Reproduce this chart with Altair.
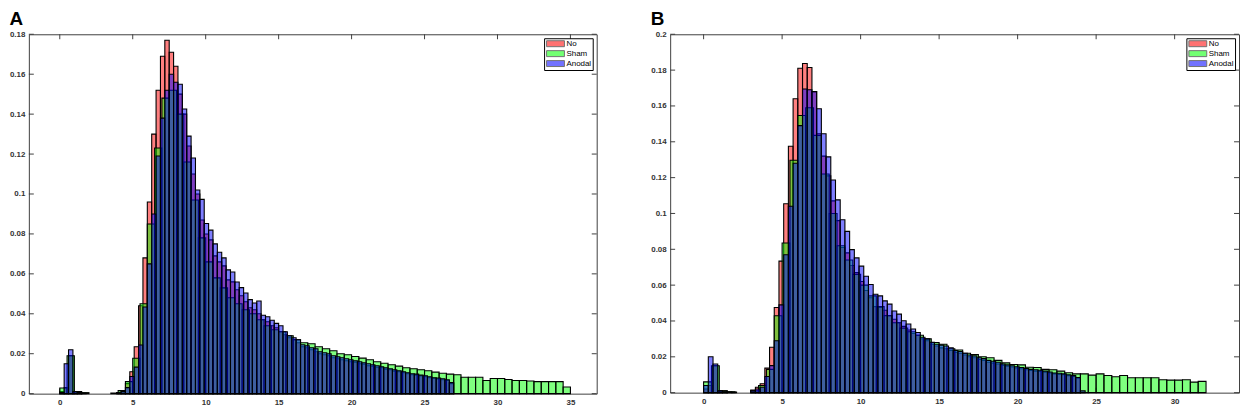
import altair as alt
import pandas as pd

# ---------------- data (bin heights) ----------------
NARROW = 0.3   # bin width of the "No" and "Anodal" histograms
WIDE = 0.5     # bin width of the "Sham" histograms

SERIES = ["No", "Sham", "Anodal"]
COLORS = ["#ff0000", "#00ff00", "#0000ff"]

# Panel A
A_NO = [0.001, 0.003, 0.019, 0.001, 0.0005, 0.0003, 0, 0, 0, 0, 0, 0, 0, 0.0005,
        0.001, 0.005, 0.011, 0.0235, 0.044, 0.068, 0.096, 0.130, 0.152, 0.169,
        0.177, 0.171, 0.164, 0.150, 0.140, 0.124, 0.110, 0.100, 0.087, 0.080,
        0.077, 0.069, 0.066, 0.064, 0.057, 0.056, 0.052, 0.049, 0.046, 0.043,
        0.042, 0.040, 0.037, 0.036, 0.034, 0.033, 0.031, 0.0295, 0.028, 0.027,
        0.0255, 0.0235, 0.023, 0.022, 0.021, 0.020, 0.0195, 0.019, 0.018, 0.0175,
        0.017, 0.0165, 0.016, 0.0158, 0.015, 0.0148, 0.014, 0.0138, 0.0132, 0.013,
        0.0123, 0.012, 0.0113, 0.011, 0.0105, 0.010, 0.0095, 0.0092, 0.0088,
        0.0085, 0.008, 0.0077, 0.0074, 0.007, 0.0066, 0.005]
A_ANODAL = [0.0005, 0.015, 0.022, 0.001, 0.0005, 0, 0, 0, 0, 0, 0, 0, 0, 0.0005,
            0.001, 0.003, 0.0086, 0.0133, 0.0244, 0.0434, 0.065, 0.090, 0.119,
            0.138, 0.152, 0.160, 0.156, 0.155, 0.1426, 0.129, 0.118, 0.102,
            0.0973, 0.0852, 0.0819, 0.075, 0.0708, 0.068, 0.062, 0.0609, 0.0559,
            0.0531, 0.0504, 0.0471, 0.0454, 0.0464, 0.0393, 0.0385, 0.0368,
            0.0352, 0.034, 0.031, 0.029, 0.028, 0.027, 0.0245, 0.024, 0.023,
            0.0225, 0.021, 0.0205, 0.020, 0.019, 0.0185, 0.018, 0.0175, 0.017,
            0.0165, 0.016, 0.0155, 0.015, 0.0145, 0.014, 0.0135, 0.013, 0.0125,
            0.012, 0.0115, 0.011, 0.0105, 0.010, 0.0098, 0.0093, 0.009, 0.0085,
            0.008, 0.0078, 0.0075, 0.0070, 0.0055]
A_SHAM = [0.0028, 0.019, 0.001, 0.0005, 0, 0, 0, 0.0003, 0.0015, 0.006, 0.0177,
          0.045, 0.085, 0.123, 0.148, 0.152, 0.140, 0.116, 0.097, 0.078, 0.066,
          0.058, 0.053, 0.048, 0.045, 0.042, 0.040, 0.037, 0.034, 0.032, 0.031,
          0.029, 0.027, 0.0255, 0.025, 0.0235, 0.0225, 0.0215, 0.020, 0.0195,
          0.0186, 0.0178, 0.017, 0.016, 0.0152, 0.0145, 0.0138, 0.013, 0.0125,
          0.012, 0.0115, 0.0108, 0.0102, 0.0098, 0.0095, 0.0082, 0.0082, 0.0082,
          0.0066, 0.0076, 0.0076, 0.0071, 0.0066, 0.0066, 0.0063, 0.006, 0.006,
          0.006, 0.006, 0.0033]

# Panel B
B_NO = [0.002, 0.004, 0.015, 0.001, 0.001, 0.0005, 0.0003, 0, 0, 0, 0.0015, 0.003,
        0.005, 0.0137, 0.0253, 0.0475, 0.0734, 0.1054, 0.1375, 0.164, 0.181,
        0.1837, 0.1815, 0.168, 0.1445, 0.132, 0.121, 0.107, 0.096, 0.081, 0.078,
        0.071, 0.067, 0.062, 0.057, 0.053, 0.048, 0.0475, 0.046, 0.043, 0.041,
        0.039, 0.037, 0.035, 0.033, 0.032, 0.030, 0.029, 0.027, 0.026, 0.025,
        0.0245, 0.0235, 0.0225, 0.022, 0.021, 0.020, 0.0195, 0.0185, 0.018,
        0.017, 0.0165, 0.016, 0.0152, 0.0148, 0.0143, 0.0138, 0.0133, 0.0128,
        0.0124, 0.012, 0.0118, 0.0114, 0.011, 0.0105, 0.0102, 0.010, 0.0095,
        0.009, 0.008]
B_ANODAL = [0.004, 0.020, 0.016, 0.001, 0.0005, 0, 0, 0, 0, 0, 0.001, 0.002, 0.003,
            0.009, 0.0151, 0.029, 0.049, 0.077, 0.104, 0.128, 0.149, 0.1695, 0.169,
            0.168, 0.1584, 0.1445, 0.1316, 0.1187, 0.1076, 0.0965, 0.090, 0.0798,
            0.0752, 0.0706, 0.065, 0.0604, 0.0549, 0.054, 0.0512, 0.0494, 0.0456,
            0.0438, 0.0401, 0.0383, 0.0355, 0.0336, 0.0309, 0.030, 0.0281, 0.027,
            0.0265, 0.026, 0.025, 0.0235, 0.023, 0.022, 0.021, 0.0205, 0.0195,
            0.019, 0.018, 0.0175, 0.017, 0.016, 0.0155, 0.015, 0.0145, 0.014,
            0.0135, 0.013, 0.0128, 0.0125, 0.012, 0.0115, 0.011, 0.0108, 0.0105,
            0.010, 0.0095, 0.0085, 0.001]
B_SHAM = [0.006, 0.015, 0.001, 0.0005, 0, 0, 0.001, 0.004, 0.013, 0.0429, 0.0835,
          0.1297, 0.1547, 0.159, 0.1436, 0.122, 0.100, 0.082, 0.074, 0.066, 0.060,
          0.054, 0.048, 0.043, 0.039, 0.036, 0.034, 0.032, 0.030, 0.028, 0.027,
          0.0245, 0.0238, 0.022, 0.0213, 0.020, 0.0195, 0.018, 0.0166, 0.0157,
          0.0155, 0.0142, 0.014, 0.013, 0.0128, 0.012, 0.0111, 0.0105, 0.0105,
          0.0098, 0.0105, 0.0096, 0.0089, 0.0096, 0.0083, 0.0083, 0.0083, 0.0083,
          0.0072, 0.0070, 0.0070, 0.0072, 0.0059, 0.0063]

A_XTICKS = [0, 5, 10, 15, 20, 25, 30, 35]
B_XTICKS = [0, 5, 10, 15, 20, 25, 30]
A_YTICKS = [0, 0.02, 0.04, 0.06, 0.08, 0.1, 0.12, 0.14, 0.16, 0.18]
B_YTICKS = [0, 0.02, 0.04, 0.06, 0.08, 0.1, 0.12, 0.14, 0.16, 0.18, 0.2]

FONT = "Liberation Sans"
AXIS_COLOR = "#404040"
TICK_LEN = 5


def bins(values, width, name):
    rows = []
    for i, v in enumerate(values):
        if v > 0:
            rows.append({"series": name, "x0": round(i * width, 4),
                         "x1": round((i + 1) * width, 4), "v": v, "base": 0.0})
    return pd.DataFrame(rows)


def panel(letter, no, sham, anodal, xdom, ydom, xticks, yticks, W, H):
    xs = alt.Scale(domain=xdom, nice=False, zero=False)
    ys = alt.Scale(domain=ydom, nice=False, zero=False)
    xaxis = alt.Axis(values=xticks, ticks=False, tickSize=0, domain=False, grid=False,
                     title=None, labelPadding=5, labelFontSize=8, labelFont=FONT,
                     labelFontWeight="bold", labelColor="#333", labelFlush=False,
                     labelOverlap=False)
    yaxis = alt.Axis(values=yticks, ticks=False, tickSize=0, domain=False, grid=False,
                     title=None, labelPadding=4, labelFontSize=8, labelFont=FONT,
                     labelFontWeight="bold", labelColor="#333", labelFlush=False,
                     labelOverlap=False,
                     labelExpr="datum.value == 0 ? '0' : format(datum.value, '.2~f')")
    legend = alt.Legend(title=None, orient="top-right", offset=4, padding=1.5,
                        strokeColor="black", fillColor="white",
                        symbolType="M-1,-1H5V1H-1Z", symbolSize=36,
                        symbolStrokeColor="black", symbolStrokeWidth=1,
                        symbolOpacity=0.55, labelOffset=13, rowPadding=0,
                        labelFontSize=8, labelFont=FONT, labelColor="black")
    color = alt.Color("series:N", scale=alt.Scale(domain=SERIES, range=COLORS),
                      legend=legend)

    xt = pd.DataFrame({"t": xticks})
    yt = pd.DataFrame({"t": yticks})
    layers = [
        alt.Chart(xt).mark_rule(color=AXIS_COLOR).encode(
            x=alt.X("t:Q", scale=xs, axis=xaxis), y=alt.value(0), y2=alt.value(TICK_LEN)),
        alt.Chart(xt).mark_rule(color=AXIS_COLOR).encode(
            x=alt.X("t:Q", scale=xs, axis=xaxis), y=alt.value(H), y2=alt.value(H - TICK_LEN)),
        alt.Chart(yt).mark_rule(color=AXIS_COLOR).encode(
            y=alt.Y("t:Q", scale=ys, axis=yaxis), x=alt.value(0), x2=alt.value(TICK_LEN)),
        alt.Chart(yt).mark_rule(color=AXIS_COLOR).encode(
            y=alt.Y("t:Q", scale=ys, axis=yaxis), x=alt.value(W), x2=alt.value(W - TICK_LEN)),
    ]
    for df in (bins(no, NARROW, "No"), bins(sham, WIDE, "Sham"), bins(anodal, NARROW, "Anodal")):
        layers.append(
            alt.Chart(df).mark_rect(fillOpacity=0.5, stroke="black", strokeWidth=1.1).encode(
                x=alt.X("x0:Q", scale=xs, axis=xaxis), x2="x1:Q",
                y=alt.Y("v:Q", scale=ys, axis=yaxis), y2="base:Q",
                color=color))
    return alt.layer(*layers).properties(
        width=W, height=H,
        title=alt.TitleParams(letter, anchor="start", fontSize=19, fontWeight="bold",
                              font=FONT, color="black", offset=1))


chart_a = panel("A", A_NO, A_SHAM, A_ANODAL, [-2.12, 36.8], [0, 0.18],
                A_XTICKS, A_YTICKS, 572, 362)
chart_b = panel("B", B_NO, B_SHAM, B_ANODAL, [-2.13, 34.1], [0, 0.2],
                B_XTICKS, B_YTICKS, 573, 361)

chart = alt.hconcat(chart_a, chart_b, spacing=52).resolve_scale(
    color="independent").resolve_legend(color="independent").properties(
    padding=0).configure_view(stroke=AXIS_COLOR, strokeWidth=1)

chart.save("out.html", embed_options={"renderer": "svg", "actions": False})
